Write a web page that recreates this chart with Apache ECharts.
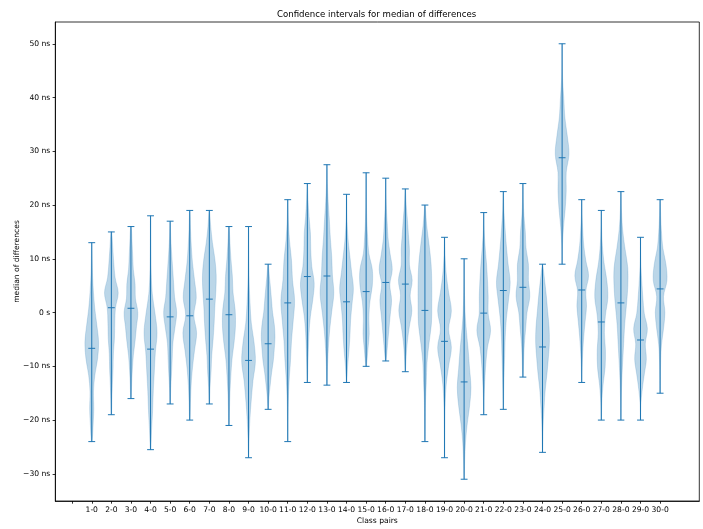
<!DOCTYPE html>
<html><head><meta charset="utf-8">
<script src="https://cdn.jsdelivr.net/npm/echarts@6/dist/echarts.min.js"></script>
<style>html,body{margin:0;padding:0;background:#fff}#c{width:703px;height:529px}</style>
</head><body><div id="c"></div>
<script>
// Category labels (position 0 is an unlabeled tick)
const categories = ['', '1-0','2-0','3-0','4-0','5-0','6-0','7-0','8-0','9-0','10-0',
  '11-0','12-0','13-0','14-0','15-0','16-0','17-0','18-0','19-0','20-0',
  '21-0','22-0','23-0','24-0','25-0','26-0','27-0','28-0','29-0','30-0'];
// values in ns
const mins = [-24,-19,-16,-25.5,-17,-20,-17,-21,-27,-18,
  -24,-13,-13.5,-13,-10,-9,-11,-24,-27,-31,
  -19,-18,-12,-26,9,-13,-20,-20,-20,-15];
const maxs = [13,15,16,18,17,19,19,16,16,9,
  21,24,27.5,22,26,25,23,20,14,10,
  18.6,22.5,24,9,50,21,19,22.5,14,21];
const medians = [-6.65,0.9,0.8,-6.8,-0.8,-0.6,2.5,-0.4,-8.9,-5.8,
  1.8,6.7,6.8,2.0,3.9,5.6,5.3,0.4,-5.35,-12.9,
  -0.1,4.1,4.7,-6.4,28.8,4.2,-1.75,1.8,-5.1,4.4];
// relative violin widths at 13 evenly spaced levels from min (first) to max (last)
const densities = [
  [0.05,0.2,0.3,0.25,0.45,0.85,1.0,0.75,0.45,0.25,0.12,0.06,0.02],
  [0.03,0.08,0.15,0.25,0.3,0.45,0.5,0.6,1.0,0.55,0.35,0.2,0.05],
  [0.03,0.1,0.2,0.35,0.6,0.8,1.0,0.65,0.6,0.35,0.25,0.15,0.05],
  [0.03,0.15,0.3,0.4,0.55,0.7,0.95,0.65,0.25,0.1,0.05,0.03,0.02],
  [0.02,0.08,0.2,0.3,0.4,0.7,0.95,0.65,0.5,0.35,0.2,0.08,0.02],
  [0.03,0.1,0.2,0.4,0.7,1.0,0.6,0.95,0.7,0.4,0.22,0.1,0.03],
  [0.03,0.1,0.25,0.35,0.55,0.7,0.8,0.95,1.0,0.8,0.45,0.2,0.03],
  [0.03,0.08,0.15,0.28,0.45,0.75,0.95,0.9,0.6,0.5,0.3,0.15,0.03],
  [0.02,0.08,0.2,0.4,0.65,1.0,0.8,0.4,0.22,0.1,0.05,0.03,0.02],
  [0.03,0.12,0.3,0.5,0.75,0.9,1.0,0.9,0.65,0.5,0.35,0.18,0.03],
  [0.02,0.04,0.08,0.2,0.4,0.55,0.8,1.0,0.7,0.55,0.25,0.08,0.02],
  [0.02,0.08,0.15,0.25,0.45,0.8,1.0,0.65,0.5,0.45,0.25,0.1,0.02],
  [0.02,0.08,0.2,0.4,0.7,1.0,0.8,0.7,0.5,0.35,0.18,0.06,0.02],
  [0.03,0.15,0.35,0.5,0.6,0.8,1.0,0.75,0.5,0.25,0.1,0.04,0.02],
  [0.04,0.25,0.45,0.4,0.55,0.9,0.9,0.4,0.22,0.1,0.05,0.03,0.02],
  [0.04,0.25,0.45,0.65,0.85,0.6,0.95,0.65,0.35,0.22,0.1,0.04,0.02],
  [0.02,0.12,0.3,0.6,0.95,0.7,1.0,0.6,0.6,0.45,0.3,0.12,0.02],
  [0.02,0.05,0.08,0.2,0.3,0.6,0.95,1.0,1.0,0.9,0.6,0.25,0.03],
  [0.02,0.03,0.05,0.1,0.25,0.6,1.0,0.6,1.0,0.6,0.25,0.08,0.02],
  [0.02,0.08,0.2,0.45,0.8,1.0,0.8,0.6,0.35,0.15,0.06,0.03,0.02],
  [0.02,0.05,0.15,0.3,0.55,1.0,0.65,0.65,0.55,0.4,0.2,0.06,0.02],
  [0.02,0.06,0.12,0.2,0.28,0.45,0.75,1.0,0.7,0.45,0.25,0.08,0.02],
  [0.03,0.1,0.2,0.4,0.6,1.0,0.8,0.8,0.45,0.35,0.15,0.05,0.02],
  [0.02,0.06,0.12,0.25,0.4,0.65,0.85,1.0,0.95,0.75,0.55,0.3,0.03],
  [0.02,0.05,0.2,0.45,0.6,0.6,1.0,0.75,0.4,0.25,0.08,0.03,0.02],
  [0.02,0.06,0.15,0.3,0.5,0.7,0.6,1.0,0.6,0.3,0.15,0.05,0.02],
  [0.02,0.07,0.25,0.55,0.6,0.45,0.6,0.95,0.8,0.4,0.15,0.05,0.02],
  [0.02,0.05,0.12,0.25,0.4,0.55,0.8,1.0,1.0,0.6,0.25,0.08,0.02],
  [0.02,0.05,0.25,0.55,0.85,0.7,1.0,0.55,0.35,0.2,0.08,0.03,0.02],
  [0.02,0.04,0.08,0.2,0.5,0.7,0.5,1.0,0.85,0.4,0.2,0.08,0.02]
];
const yTicks = [-30,-20,-10,0,10,20,30,40,50];
const xTicks = categories.map((c, i) => i);

const HALF = 0.35;   // half violin width (axis units)
const CAP = 0.175;   // half cap length
const C0 = '#1f77b4';

const data = categories.slice(1).map((c, i) => [i + 1, mins[i], maxs[i], medians[i]]);

function renderItem(params, api) {
  const i = params.dataIndex;
  const pos = api.value(0), lo = api.value(1), hi = api.value(2), med = api.value(3);
  const prof = densities[i];
  const n = prof.length;
  const pts = [];
  for (let k = 0; k < n; k++) {
    const v = lo + (hi - lo) * k / (n - 1);
    pts.push(api.coord([pos + prof[k] * HALF, v]));
  }
  for (let k = n - 1; k >= 0; k--) {
    const v = lo + (hi - lo) * k / (n - 1);
    pts.push(api.coord([pos - prof[k] * HALF, v]));
  }
  const ln = (a, b) => {
    const p = api.coord(a), q = api.coord(b);
    return { type: 'line', shape: { x1: p[0], y1: p[1], x2: q[0], y2: q[1] },
      style: { stroke: C0, lineWidth: 1 } };
  };
  return {
    type: 'group',
    children: [
      { type: 'polygon', shape: { points: pts, smooth: 0.35 },
        style: { fill: 'rgba(31,119,180,0.3)', stroke: 'rgba(31,119,180,0.3)', lineWidth: 0.6 } },
      ln([pos, lo], [pos, hi]),
      ln([pos - CAP, lo], [pos + CAP, lo]),
      ln([pos - CAP, hi], [pos + CAP, hi]),
      ln([pos - CAP, med], [pos + CAP, med])
    ]
  };
}

const FONT = 'DejaVu Sans';
const chart = echarts.init(document.getElementById('c'), null, { renderer: 'canvas' });
chart.setOption({
  animation: false,
  backgroundColor: '#fff',
  title: {
    text: 'Confidence intervals for median of differences',
    left: 272, top: 5,
    textStyle: { fontFamily: FONT, fontSize: 8.6, fontWeight: 'normal', color: '#000' }
  },
  grid: { left: 55.3, right: 3.7, top: 22, bottom: 28, containLabel: false, outerBoundsMode: 'none',
    show: true, borderColor: '#000', borderWidth: 0.8, backgroundColor: 'transparent' },
  xAxis: {
    type: 'value', min: -0.86, max: 32,
    name: 'Class pairs', nameLocation: 'middle', nameGap: 16, nameMoveOverlap: false,
    nameTextStyle: { fontFamily: FONT, fontSize: 7.6, color: '#000' },
    axisLine: { show: true, onZero: false, lineStyle: { color: '#000', width: 0.8 } },
    axisTick: { show: true, length: 2.7, customValues: xTicks, lineStyle: { color: '#000', width: 0.8 } },
    axisLabel: { customValues: xTicks, margin: 5, fontFamily: FONT, fontSize: 7.6, color: '#000',
      formatter: v => categories[Math.round(v)] || '' },
    splitLine: { show: false }
  },
  yAxis: {
    type: 'value', min: -35.05, max: 54.05,
    name: 'median of differences', nameLocation: 'middle', nameGap: 34, nameMoveOverlap: false,
    nameTextStyle: { fontFamily: FONT, fontSize: 7.6, color: '#000' },
    axisLine: { show: true, onZero: false, lineStyle: { color: '#000', width: 0.8 } },
    axisTick: { show: true, length: 2.7, customValues: yTicks, lineStyle: { color: '#000', width: 0.8 } },
    axisLabel: { customValues: yTicks, margin: 5, fontFamily: FONT, fontSize: 7.6, color: '#000',
      formatter: v => v === 0 ? '0 s' : (v < 0 ? '\u2212' + (-v) : v) + ' ns' },
    splitLine: { show: false }
  },
  series: [{
    type: 'custom', renderItem: renderItem, data: data,
    encode: { x: 0, y: [1, 2, 3] }, clip: false
  }]
});
</script>
</body></html>
